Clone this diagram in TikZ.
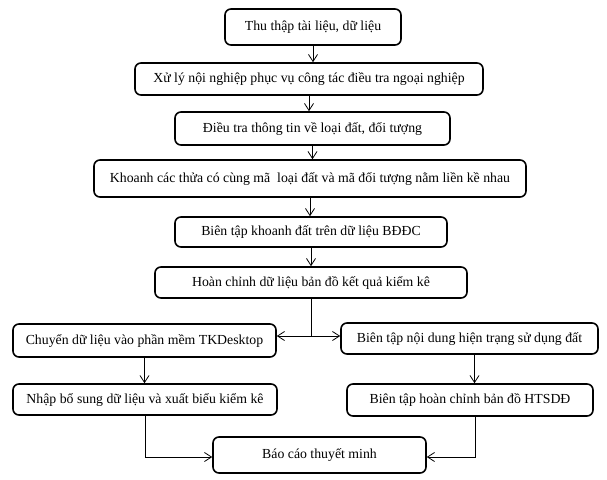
\documentclass[tikz,border=0pt]{standalone}
\usepackage{fontspec}
\setmainfont{Liberation Serif}
\usetikzlibrary{arrows.meta}
\begin{document}
\begin{tikzpicture}[x=1pt,y=-1pt,>={Straight Barb[length=7pt,width=9pt]},
  box/.style={draw,line width=1.6pt,rounded corners=6pt,inner sep=2pt,text height=10pt,text depth=3pt,font=\fontsize{13.8}{16}\selectfont},
  link/.style={->,line width=0.8pt}]
  \useasboundingbox (0,0) rectangle (607,479);
  \node[box,minimum width=176pt,minimum height=36pt](thu) at (313,27){Thu thập tài liệu, dữ liệu};
  \node[box,minimum width=348pt,minimum height=32pt](xuly) at (309,79){Xử lý nội nghiệp phục vụ công tác điều tra ngoại nghiệp};
  \node[box,minimum width=275pt,minimum height=33pt](dieutra) at (312.5,128.5){Điều tra thông tin về loại đất, đối tượng};
  \node[box,minimum width=432pt,minimum height=37pt](khoanh) at (310,178.5){Khoanh các thửa có cùng mã\ \ loại đất và mã đối tượng nằm liền kề nhau};
  \node[box,minimum width=272pt,minimum height=30pt](bientap) at (311,232){Biên tập khoanh đất trên dữ liệu BĐĐC};
  \node[box,minimum width=312pt,minimum height=31pt](hoanchinh) at (311,282.5){Hoàn chỉnh dữ liệu bản đồ kết quả kiểm kê};
  \node[box,minimum width=263pt,minimum height=33pt](chuyen) at (144.5,340.5){Chuyển dữ liệu vào phần mềm TKDesktop};
  \node[box,minimum width=264pt,minimum height=31pt](nhap) at (145,399.5){Nhập bổ sung dữ liệu và xuất biểu kiểm kê};
  \node[box,minimum width=257pt,minimum height=31pt](noidung) at (469.5,338.5){Biên tập nội dung hiện trạng sử dụng đất};
  \node[box,minimum width=246pt,minimum height=32pt](htsdd) at (470,400){Biên tập hoàn chỉnh bản đồ HTSDĐ};
  \node[box,minimum width=213pt,minimum height=36pt](baocao) at (319.5,455){Báo cáo thuyết minh};
  \coordinate (tach) at (311,336);
  \draw[link](thu.south)--(thu.south|-xuly.north);
  \draw[link](xuly.south)--(xuly.south|-dieutra.north);
  \draw[link](dieutra.south)--(dieutra.south|-khoanh.north);
  \draw[link](khoanh.south)--(khoanh.south|-bientap.north);
  \draw[link](bientap.south)--(bientap.south|-hoanchinh.north);
  \draw[line width=0.8pt](hoanchinh.south)--(tach);
  \draw[link](tach)--(tach-|chuyen.east);
  \draw[link](tach)--(tach-|noidung.west);
  \draw[link](chuyen.south)--(chuyen.south|-nhap.north);
  \draw[link]([xshift=5pt]noidung.south)--([xshift=5pt]noidung.south|-htsdd.north);
  \draw[link](nhap.south)|-([yshift=-2pt]baocao.west);
  \draw[link]([xshift=5pt]htsdd.south)|-([yshift=-2pt]baocao.east);
\end{tikzpicture}
\end{document}
